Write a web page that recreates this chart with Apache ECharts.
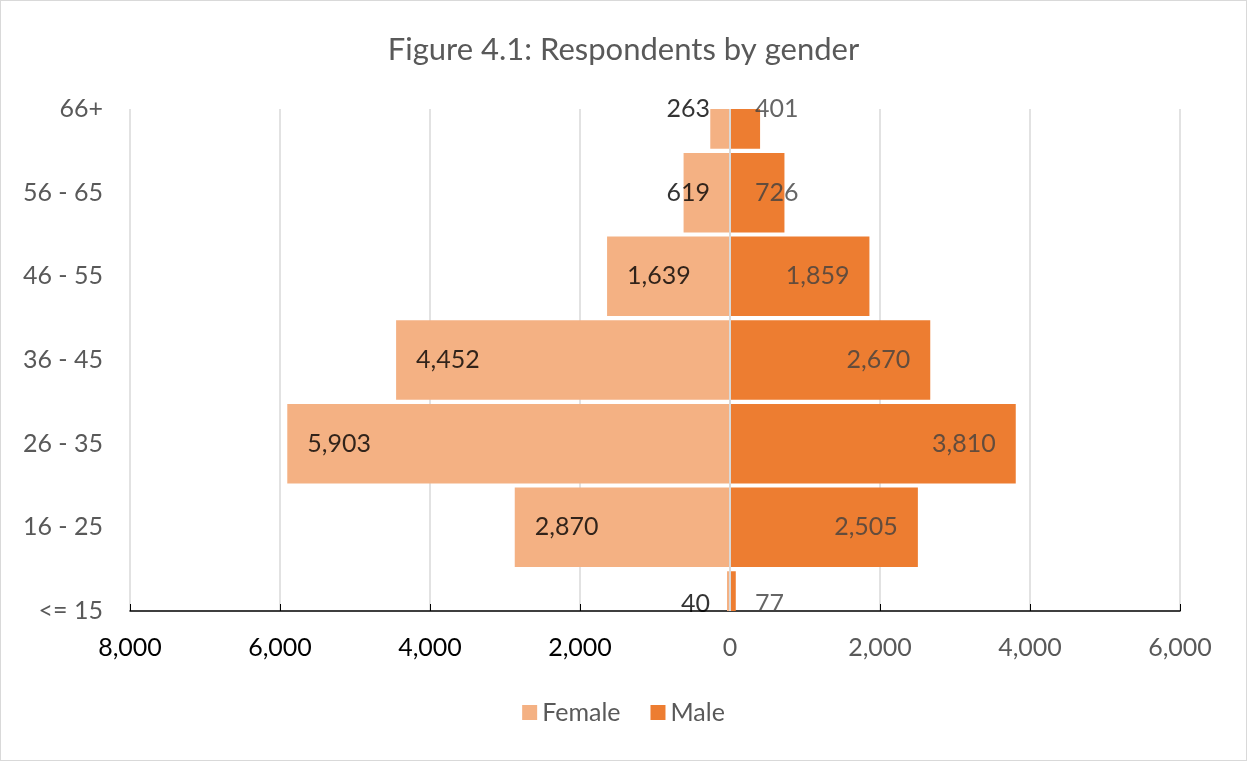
<!DOCTYPE html>
<html>
<head>
<meta charset="utf-8">
<script src="https://cdn.jsdelivr.net/npm/echarts@6/dist/echarts.min.js"></script>
<style>
  html, body { margin: 0; padding: 0; background: #fff; }
  #main { width: 1247px; height: 761px; box-sizing: border-box; border: 1px solid #d9d9d9; }
</style>
</head>
<body>
<div id="main"></div>
<script>
var ageGroups = ['<= 15', '16 - 25', '26 - 35', '36 - 45', '46 - 55', '56 - 65', '66+'];
var female = [40, 2870, 5903, 4452, 1639, 619, 263];
var male = [77, 2505, 3810, 2670, 1859, 726, 401];
var xTicks = [-8000, 6000, 2000]; // min, max, step

var FONT = 'Lato, "Open Sans", sans-serif';

function fmt(v) {
    return Math.abs(v).toLocaleString('en-US');
}

var chart = echarts.init(document.getElementById('main'));

// bars sit on the category ticks (boundaryGap false) and are cut at the plot edges
function renderBar(params, api) {
    var v = api.value(0), c = api.value(1);
    var p0 = api.coord([0, c]);
    var p1 = api.coord([v, c]);
    var h = api.size([0, 1])[1] * 0.95;
    var cs = params.coordSys;
    var rect = echarts.graphic.clipRectByRect(
        { x: Math.min(p0[0], p1[0]), y: p0[1] - h / 2, width: Math.abs(p1[0] - p0[0]), height: h },
        { x: cs.x, y: cs.y, width: cs.width, height: cs.height }
    );
    return rect && { type: 'rect', shape: rect, style: api.style() };
}

// label helpers: small bars get their label beside the zero line,
// the bottom row sits just above the axis
function labelOffset(i) {
    return i === 0 ? [0, -7] : [0, 0];
}
var femaleLabels = female.map(function (v, i) {
    var big = v >= 1000;
    return {
        value: [big ? -v : 0, i],
        label: { position: big ? 'right' : 'left', distance: 20, offset: labelOffset(i), formatter: fmt(v) }
    };
});
var maleLabels = male.map(function (v, i) {
    var big = v >= 1000;
    return {
        value: [big ? v : 0, i],
        label: { position: big ? 'left' : 'right', distance: big ? 20 : 25, offset: labelOffset(i), formatter: fmt(v) }
    };
});

var option = {
    title: {
        text: 'Figure 4.1: Respondents by gender',
        left: 'center',
        top: 28,
        textStyle: { fontFamily: FONT, fontSize: 31, fontWeight: 'normal', color: '#595959' }
    },
    legend: {
        data: ['Female', 'Male'],
        bottom: 30,
        left: 'center',
        icon: 'rect',
        itemWidth: 15,
        itemHeight: 15,
        itemGap: 30,
        textStyle: { fontFamily: FONT, fontSize: 25, color: '#595959' }
    },
    grid: { left: 129, right: 66, top: 108, bottom: 149, containLabel: false },
    xAxis: {
        type: 'value',
        min: xTicks[0],
        max: xTicks[1],
        interval: xTicks[2],
        axisLine: { show: true, lineStyle: { color: '#000', width: 1.5 } },
        axisTick: { show: true, inside: true, length: 7, lineStyle: { color: '#000' } },
        splitLine: { show: true, lineStyle: { color: '#d9d9d9', width: 1.5 } },
        axisLabel: {
            margin: 24,
            fontFamily: FONT,
            fontSize: 25,
            color: function (value) {
                return value < 0 ? '#000' : '#595959';
            },
            formatter: function (value) { return fmt(value); }
        }
    },
    yAxis: {
        type: 'category',
        data: ageGroups,
        boundaryGap: false,
        axisLine: { show: false },
        axisTick: { show: false },
        splitLine: { show: false },
        axisLabel: { margin: 27, fontFamily: FONT, fontSize: 25, color: '#595959' }
    },
    series: [
        {
            name: 'Female',
            type: 'custom',
            renderItem: renderBar,
            encode: { x: 0, y: 1 },
            itemStyle: { color: '#F4B183' },
            data: female.map(function (v, i) { return [-v, i]; }),
            markLine: {
                silent: true,
                symbol: 'none',
                label: { show: false },
                lineStyle: { color: '#d9d9d9', width: 2, type: 'solid' },
                data: [{ xAxis: 0 }]
            }
        },
        {
            name: 'Male',
            type: 'custom',
            renderItem: renderBar,
            encode: { x: 0, y: 1 },
            itemStyle: { color: '#ED7D31' },
            data: male.map(function (v, i) { return [v, i]; })
        },
        {
            name: 'femaleLabels',
            type: 'scatter',
            symbolSize: 0,
            clip: false,
            silent: true,
            z: 5,
            label: { show: true, fontFamily: FONT, fontSize: 25, color: '#000' },
            data: femaleLabels
        },
        {
            name: 'maleLabels',
            type: 'scatter',
            symbolSize: 0,
            clip: false,
            silent: true,
            z: 5,
            label: { show: true, fontFamily: FONT, fontSize: 25, color: '#404040' },
            data: maleLabels
        }
    ]
};

chart.setOption(option);
</script>
</body>
</html>
